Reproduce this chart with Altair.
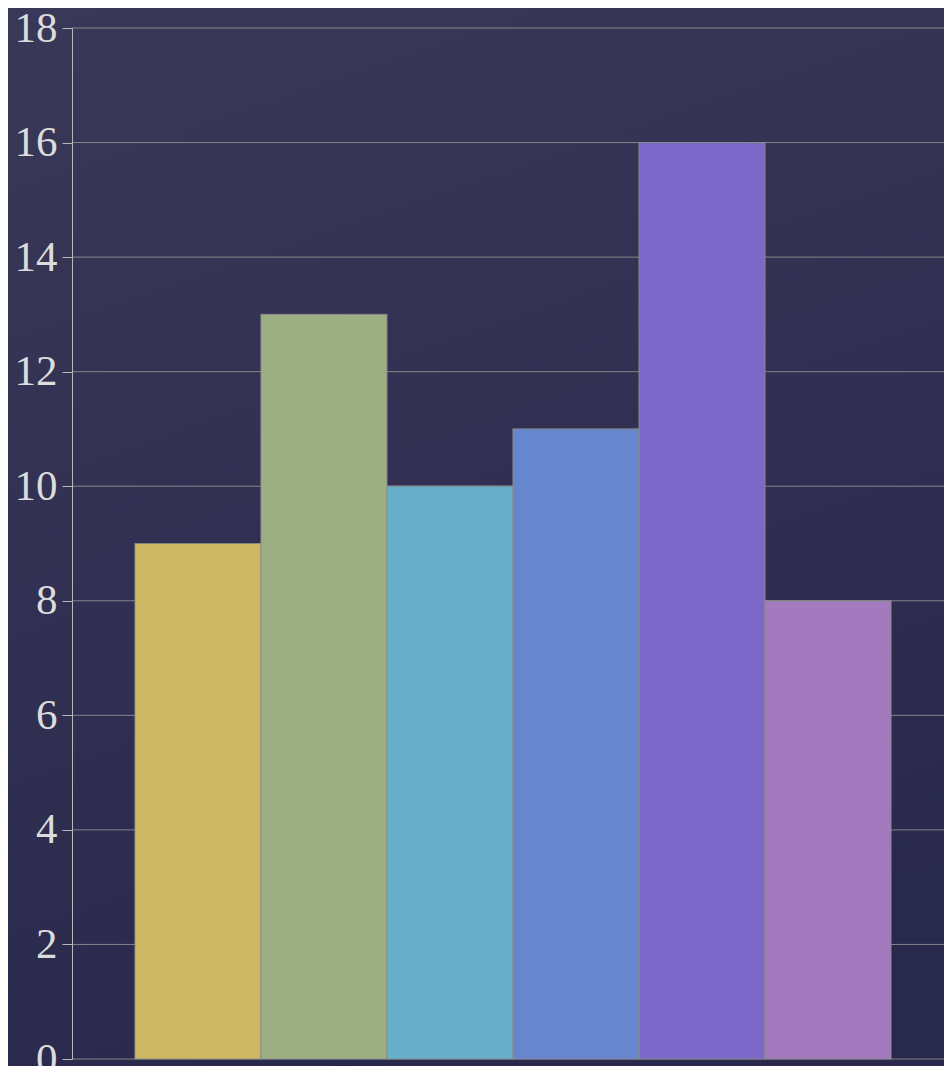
import altair as alt
import pandas as pd

categories = ["A", "B", "C", "D", "E", "F"]
values = [9, 13, 10, 11, 16, 8]
colors = ["#cdb964", "#9caf82", "#67afc9", "#6686cd", "#7b68c8", "#a37abd"]
y_ticks = [0, 2, 4, 6, 8, 10, 12, 14, 16, 18]

df = pd.DataFrame({"cat": categories, "value": values})
grid_df = pd.DataFrame({"t": y_ticks})

W, H = 872, 1031
PAD_L, PAD_T = 64, 20

yscale = alt.Scale(domain=[0, 18], nice=False)
yaxis = alt.Axis(values=y_ticks, title=None, grid=False, zindex=1,
                 labelFont="Liberation Serif", labelFontSize=43,
                 labelColor="#dcdcdc", labelPadding=5,
                 tickColor="#b8b8b8", tickSize=10, tickWidth=1,
                 domainColor="#b8b8b8", domainWidth=1)

bg = alt.Chart(pd.DataFrame({"k": [0]})).mark_rect(
    color=alt.Gradient(
        gradient="linear", x1=0, y1=0, x2=0.3, y2=1,
        stops=[alt.GradientStop(offset=0, color="#3a3858"),
               alt.GradientStop(offset=1, color="#29294d")],
    )
).encode(
    x=alt.value(-PAD_L), x2=alt.value(W + 20),
    y=alt.value(-PAD_T), y2=alt.value(H + 40),
)

grid = alt.Chart(grid_df).mark_rule(color="#a8a8a0", opacity=0.7, strokeWidth=1).encode(
    y=alt.Y("t:Q", scale=yscale, axis=yaxis),
    x=alt.value(0), x2=alt.value(W + 20),
)

bars = alt.Chart(df).mark_bar(stroke="#8c8c8c", strokeWidth=1.2, strokeOpacity=0.8).encode(
    x=alt.X("cat:N", sort=categories, axis=None,
            scale=alt.Scale(paddingInner=0, paddingOuter=0.46, align=0.543)),
    y=alt.Y("value:Q", scale=yscale, axis=yaxis),
    color=alt.Color("cat:N", sort=categories,
                    scale=alt.Scale(domain=categories, range=colors), legend=None),
)

chart = alt.layer(bg, grid, bars).properties(
    width=W, height=H,
    autosize=alt.AutoSizeParams(type="none"),
    padding={"left": PAD_L, "top": PAD_T, "right": 0, "bottom": 7},
    background="#323152",
).configure_view(stroke=None)

chart.save("out.html", embed_options={"renderer": "svg", "actions": False})
